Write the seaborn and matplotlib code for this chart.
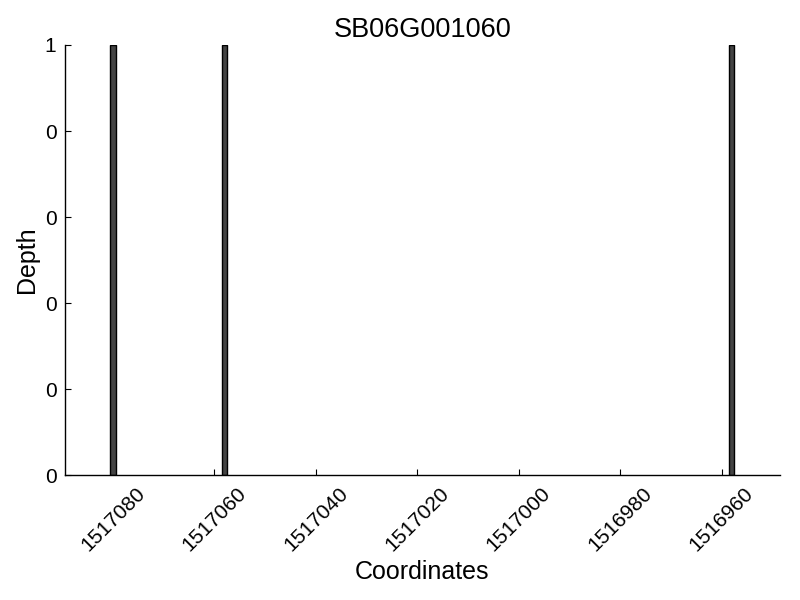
import matplotlib
matplotlib.use("Agg")
import matplotlib.pyplot as plt
import seaborn as sns
import pandas as pd
from matplotlib.ticker import FixedLocator, FixedFormatter

coordinates = [1517080, 1517058, 1516958]
depth = [1, 1, 1]
x_ticks = [1517080, 1517060, 1517040, 1517020, 1517000, 1516980, 1516960]
y_ticks = [0.0, 0.2, 0.4, 0.6, 0.8, 1.0]
y_tick_labels = ["0", "0", "0", "0", "0", "1"]
title = "SB06G001060"

sns.set_style("ticks")
plt.rcParams["font.family"] = ["Liberation Sans", "DejaVu Sans"]
plt.rcParams["text.color"] = "black"
plt.rcParams["axes.labelcolor"] = "black"
plt.rcParams["xtick.color"] = "black"
plt.rcParams["ytick.color"] = "black"

df = pd.DataFrame({"Coordinates": coordinates, "Depth": depth})

fig = plt.figure(figsize=(8, 6), dpi=100)
ax = fig.add_axes([0.081, 0.208, 0.894, 0.717])

sc = sorted(coordinates)
min_gap = min(b - a for a, b in zip(sc[:-1], sc[1:]))
sns.barplot(data=df, x="Coordinates", y="Depth", native_scale=True,
            width=1.0 / min_gap, color="#444444", saturation=1,
            edgecolor="black", linewidth=1, ax=ax, errorbar=None)

ax.set_xlim(1517089.5, 1516948.5)
ax.set_ylim(0, 1)
ax.xaxis.set_major_locator(FixedLocator(x_ticks))
ax.set_xticklabels([str(t) for t in x_ticks], rotation=45, ha="center", fontsize=15)
ax.yaxis.set_major_locator(FixedLocator(y_ticks))
ax.yaxis.set_major_formatter(FixedFormatter(y_tick_labels))
ax.tick_params(axis="both", direction="in", length=4, width=0.8, labelsize=15,
               pad=6, colors="black")
sns.despine(ax=ax)
for s in ["left", "bottom"]:
    ax.spines[s].set_linewidth(1)
    ax.spines[s].set_color("black")

ax.set_xlabel("Coordinates", fontsize=18, color="black")
ax.set_ylabel("Depth", fontsize=18, color="black")
ax.set_title(title, fontsize=19.5, color="black")

fig.savefig("out.png", dpi=100)
